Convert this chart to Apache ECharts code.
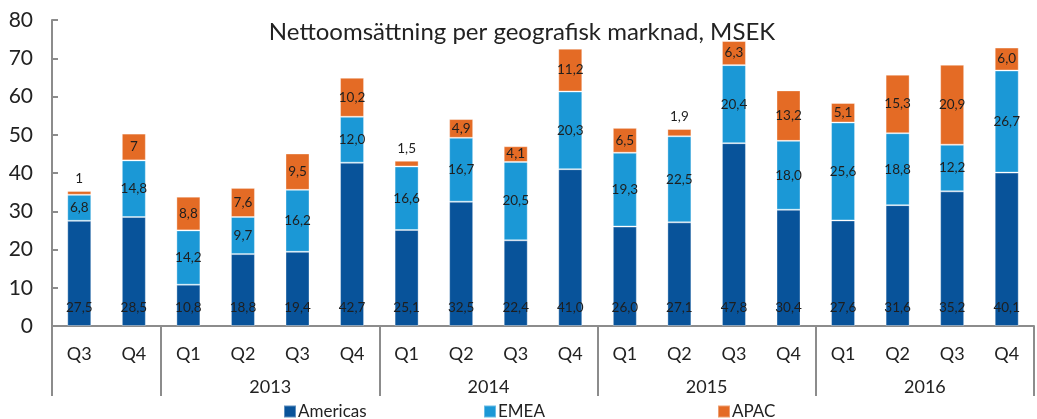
<!DOCTYPE html>
<html>
<head>
<meta charset="utf-8">
<script src="https://cdn.jsdelivr.net/npm/echarts@6/dist/echarts.min.js"></script>
<style>
  html, body { margin: 0; padding: 0; background: #fff; }
  #chart { width: 1037px; height: 419px; }
</style>
</head>
<body>
<div id="chart"></div>
<script>
// kvartal och år
const quarters = ['Q3', 'Q4', 'Q1', 'Q2', 'Q3', 'Q4', 'Q1', 'Q2', 'Q3', 'Q4', 'Q1', 'Q2', 'Q3', 'Q4', 'Q1', 'Q2', 'Q3', 'Q4'];
// årsaxeln ligger på gränserna mellan staplarna (19 punkter)
const yearLabels = ['', '', '', '', '2013', '', '', '', '2014', '', '', '', '2015', '', '', '', '2016', '', ''];
const yearBounds = [0, 2, 6, 10, 14, 18];

const americas = [27.5, 28.5, 10.8, 18.8, 19.4, 42.7, 25.1, 32.5, 22.4, 41.0, 26.0, 27.1, 47.8, 30.4, 27.6, 31.6, 35.2, 40.1];
const emea = [6.8, 14.8, 14.2, 9.7, 16.2, 12.0, 16.6, 16.7, 20.5, 20.3, 19.3, 22.5, 20.4, 18.0, 25.6, 18.8, 12.2, 26.7];
const apac = [1, 7, 8.8, 7.6, 9.5, 10.2, 1.5, 4.9, 4.1, 11.2, 6.5, 1.9, 6.3, 13.2, 5.1, 15.3, 20.9, 6.0];

const FONT = 'Lato, "Open Sans", sans-serif';
const AXIS_GREY = '#8c8c8c';

const fmt = p => (p.seriesName === 'APAC' && p.dataIndex < 2)
  ? String(p.value)
  : p.value.toFixed(1).replace('.', ',');

const labelStyle = { show: true, color: '#1e1e1e', fontSize: 13.5, fontFamily: FONT, formatter: fmt };

const chart = echarts.init(document.getElementById('chart'));

const option = {
  animation: false,
  title: {
    text: 'Nettoomsättning per geografisk marknad, MSEK',
    left: 517, top: 15, textAlign: 'center',
    textStyle: { fontSize: 24, fontWeight: 'normal', color: '#222', fontFamily: FONT }
  },
  legend: [
    { data: ['Americas'], left: 281, top: 401 },
    { data: ['EMEA'], left: 481, top: 401 },
    { data: ['APAC'], left: 715, top: 401 }
  ].map(l => Object.assign(l, {
    icon: 'rect', itemWidth: 12, itemHeight: 12, itemGap: 4,
    padding: 2,
    textStyle: { fontSize: 17, color: '#222', fontFamily: FONT, padding: [0, 0, 0, -3] }
  })),
  grid: { left: 52, right: -9, top: 20, bottom: 93 },
  xAxis: [
    {
      type: 'category',
      data: quarters,
      axisLine: { lineStyle: { color: AXIS_GREY, width: 2 } },
      axisTick: { length: 34, lineStyle: { color: AXIS_GREY, width: 2 } },
      axisLabel: { interval: 0, margin: 19, fontSize: 18, color: '#222', fontFamily: FONT }
    },
    {
      type: 'category',
      position: 'bottom',
      boundaryGap: false,
      data: yearLabels,
      axisLine: { show: false },
      axisTick: {
        length: 70,
        interval: i => yearBounds.indexOf(i) >= 0,
        lineStyle: { color: AXIS_GREY, width: 2 }
      },
      axisLabel: { interval: 0, margin: 52, fontSize: 18, color: '#222', fontFamily: FONT }
    }
  ],
  yAxis: {
    type: 'value',
    min: 0, max: 80, interval: 10,
    splitLine: { show: false },
    axisLine: { show: true, lineStyle: { color: AXIS_GREY, width: 2 } },
    axisTick: { show: true, inside: true, length: 6, lineStyle: { color: AXIS_GREY, width: 2 } },
    axisLabel: { margin: 19, fontSize: 21, color: '#222', fontFamily: FONT }
  },
  series: [
    {
      name: 'Americas', type: 'bar', stack: 'tot', data: americas, barWidth: 24,
      itemStyle: { color: '#08539a', borderColor: 'rgba(255,255,255,0.35)', borderWidth: 1 },
      label: Object.assign({ position: 'insideBottom', distance: 11 }, labelStyle)
    },
    {
      name: 'EMEA', type: 'bar', stack: 'tot', data: emea, barWidth: 24,
      itemStyle: { color: '#1b98d6', borderColor: 'rgba(255,255,255,0.35)', borderWidth: 1 },
      label: Object.assign({ position: 'inside' }, labelStyle)
    },
    {
      name: 'APAC', type: 'bar', stack: 'tot', barWidth: 24,
      data: apac.map(v => v < 2 ? { value: v, label: { position: 'top', distance: 5 } } : v),
      itemStyle: { color: '#e46b25', borderColor: 'rgba(255,255,255,0.35)', borderWidth: 1 },
      label: Object.assign({ position: 'inside' }, labelStyle)
    }
  ]
};

chart.setOption(option);
</script>
</body>
</html>
